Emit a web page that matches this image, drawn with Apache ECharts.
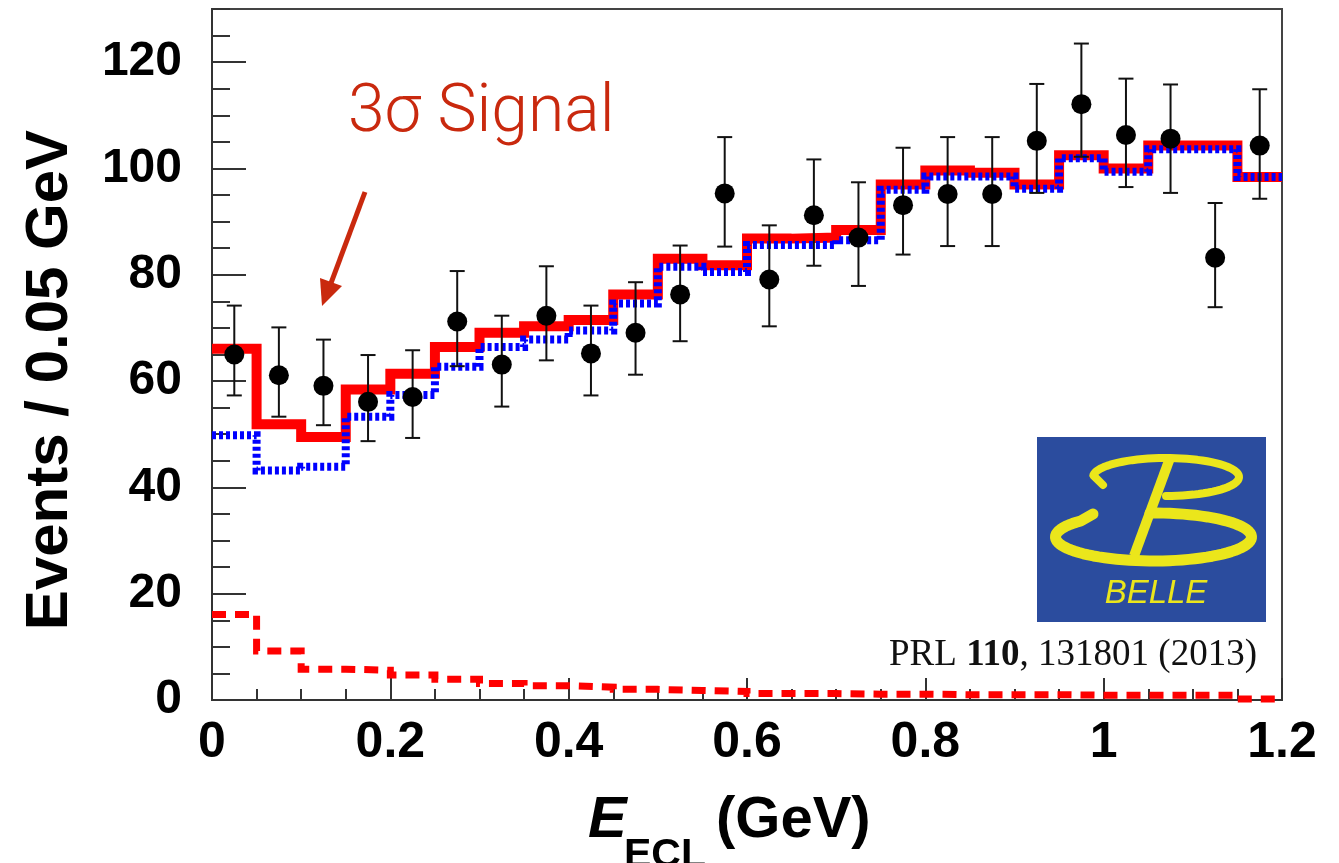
<!DOCTYPE html>
<html>
<head>
<meta charset="utf-8">
<script src="https://cdn.jsdelivr.net/npm/echarts@6/dist/echarts.min.js"></script>
<style>
html,body{margin:0;padding:0;background:#fff;}
#chart{width:1339px;height:863px;}
</style>
</head>
<body>
<div id="chart"></div>
<script>
// ---- data ----
const binEdges = [0, 0.05, 0.1, 0.15, 0.2, 0.25, 0.3, 0.35, 0.4, 0.45, 0.5, 0.55, 0.6,
  0.65, 0.7, 0.75, 0.8, 0.85, 0.9, 0.95, 1.0, 1.05, 1.1, 1.15, 1.2];
const binCenters = [0.025, 0.075, 0.125, 0.175, 0.225, 0.275, 0.325, 0.375, 0.425, 0.475,
  0.525, 0.575, 0.625, 0.675, 0.725, 0.775, 0.825, 0.875, 0.925, 0.975, 1.025, 1.075, 1.125, 1.175];
const dataValues = [65.0, 61.1, 59.1, 56.1, 57.0, 71.2, 63.1, 72.3, 65.2, 69.1,
  76.3, 95.3, 79.1, 91.2, 87.0, 93.1, 95.2, 95.2, 105.2, 112.1, 106.3, 105.6, 83.2, 104.3];
const dataErrHigh = [74.2, 70.1, 67.8, 64.9, 65.8, 80.7, 72.3, 81.6, 74.2, 78.6,
  85.5, 105.9, 89.3, 101.7, 97.4, 103.9, 105.9, 105.9, 115.9, 123.5, 116.9, 115.8, 93.5, 114.9];
const dataErrLow = [57.3, 53.3, 51.7, 48.7, 49.3, 62.8, 55.2, 63.9, 57.3, 61.2,
  67.5, 85.3, 70.3, 81.7, 77.9, 83.8, 85.4, 85.4, 95.4, 102.2, 96.5, 95.4, 73.9, 94.3];
const totalFit = [66.1, 51.9, 49.5, 58.4, 61.4, 66.4, 69.1, 70.3, 71.5, 76.3,
  83.0, 81.8, 86.8, 87.0, 88.4, 97.0, 99.6, 99.2, 97.0, 102.5, 100.0, 104.3, 104.3, 98.4];
const backgroundFit = [49.8, 43.2, 43.9, 53.3, 57.4, 62.7, 66.4, 67.8, 69.5, 74.6,
  81.5, 80.5, 85.6, 85.6, 86.5, 96.0, 98.5, 98.5, 96.2, 101.9, 99.4, 103.6, 103.6, 98.4];
const signalFit = [16.1, 9.2, 5.8, 5.6, 4.7, 3.9, 3.1, 2.7, 2.4, 2.0,
  1.8, 1.6, 1.2, 1.2, 1.1, 1.1, 1.0, 1.0, 1.0, 0.9, 0.9, 0.9, 0.9, 0.2];
const xTicks = {min: 0, max: 1.2, interval: 0.2, minorInterval: 0.05};
const yTicks = {min: 0, max: 130, interval: 20, minorInterval: 5};

// ---- helpers ----
function stepData(vals) {
  const d = vals.map((v, i) => [binEdges[i], v]);
  d.push([binEdges[vals.length], vals[vals.length - 1]]);
  return d;
}
const errData = binCenters.map((x, i) => [x, dataErrLow[i], dataErrHigh[i]]);
const pointData = binCenters.map((x, i) => [x, dataValues[i]]);

// logo outline helper (decorative drawing, pixels)
function ellipseArc(cx, cy, rx, ry, a0, a1, n) {
  const pts = [];
  for (let k = 0; k <= n; k++) {
    const t = (a0 + (a1 - a0) * k / n) * Math.PI / 180;
    pts.push([cx + rx * Math.cos(t), cy + ry * Math.sin(t)]);
  }
  return pts;
}
const upperBowl = [[1103, 485]].concat(ellipseArc(1166, 477, 73, 19, 185, 450, 60));
const lowerBowl = ellipseArc(1153.5, 537, 98, 24, 268, 582, 80).concat([[1093, 514]]);

const chart = echarts.init(document.getElementById('chart'), null, {renderer: 'canvas'});
const boldFont = '"Liberation Sans", Arial, Helvetica, sans-serif';
const annColor = '#c9290e';
const logoYellow = '#ebe61b';

const option = {
  animation: false,
  backgroundColor: '#fff',
  grid: {left: 212, right: 57, top: 9, bottom: 163, show: true, borderColor: '#444', borderWidth: 2, backgroundColor: 'transparent'},
  xAxis: [
    {
      type: 'value', min: xTicks.min, max: xTicks.max, interval: xTicks.interval, position: 'bottom',
      axisLine: {show: true, lineStyle: {color: '#333', width: 2}},
      axisTick: {show: true, inside: true, length: 22, lineStyle: {color: '#333', width: 2}},
      axisLabel: {show: true, margin: 18, color: '#000', fontSize: 50, fontWeight: 'bold', fontFamily: boldFont},
      splitLine: {show: false}
    },
    {
      type: 'value', min: xTicks.min, max: xTicks.max, interval: xTicks.minorInterval, position: 'bottom', offset: 0,
      axisLine: {show: false},
      axisTick: {show: true, inside: true, length: 11, lineStyle: {color: '#333', width: 2}},
      axisLabel: {show: false},
      splitLine: {show: false}
    }
  ],
  yAxis: [
    {
      type: 'value', min: yTicks.min, max: yTicks.max, interval: yTicks.interval, position: 'left',
      axisLine: {show: true, lineStyle: {color: '#333', width: 2}},
      axisTick: {show: true, inside: true, length: 34, lineStyle: {color: '#333', width: 2}},
      axisLabel: {show: true, margin: 30, color: '#000', fontSize: 48, fontWeight: 'bold', fontFamily: boldFont, showMaxLabel: false},
      splitLine: {show: false}
    },
    {
      type: 'value', min: yTicks.min, max: yTicks.max, interval: yTicks.minorInterval, position: 'left', offset: 0,
      axisLine: {show: false},
      axisTick: {show: true, inside: true, length: 18, lineStyle: {color: '#333', width: 2}},
      axisLabel: {show: false},
      splitLine: {show: false}
    }
  ],
  series: [
    {
      name: 'signal', type: 'line', step: 'end', xAxisIndex: 0, yAxisIndex: 0,
      data: stepData(signalFit), showSymbol: false, symbol: 'none', z: 2,
      lineStyle: {color: '#ff0000', width: 7, type: [14, 9], cap: 'butt', join: 'miter'}
    },
    {
      name: 'total', type: 'line', step: 'end', xAxisIndex: 0, yAxisIndex: 0,
      data: stepData(totalFit), showSymbol: false, symbol: 'none', z: 3,
      lineStyle: {color: '#ff0000', width: 10, type: 'solid', cap: 'butt', join: 'miter'}
    },
    {
      name: 'background', type: 'line', step: 'end', xAxisIndex: 0, yAxisIndex: 0,
      data: stepData(backgroundFit), showSymbol: false, symbol: 'none', z: 4,
      lineStyle: {color: '#0000ff', width: 8, type: [4, 3], cap: 'butt', join: 'miter'}
    },
    {
      name: 'errors', type: 'custom', xAxisIndex: 0, yAxisIndex: 0, z: 5,
      data: errData,
      renderItem: function (params, api) {
        const x = api.value(0);
        const p1 = api.coord([x, api.value(1)]);
        const p2 = api.coord([x, api.value(2)]);
        const hw = 7.5;
        const st = {stroke: '#111', lineWidth: 2};
        return {
          type: 'group',
          children: [
            {type: 'line', shape: {x1: p1[0], y1: p1[1], x2: p2[0], y2: p2[1]}, style: st},
            {type: 'line', shape: {x1: p1[0] - hw, y1: p1[1], x2: p1[0] + hw, y2: p1[1]}, style: st},
            {type: 'line', shape: {x1: p2[0] - hw, y1: p2[1], x2: p2[0] + hw, y2: p2[1]}, style: st}
          ]
        };
      }
    },
    {
      name: 'data', type: 'scatter', xAxisIndex: 0, yAxisIndex: 0, z: 6,
      data: pointData, symbol: 'circle', symbolSize: 20,
      itemStyle: {color: '#000', opacity: 1}
    }
  ],
  graphic: [
    // y axis title
    {type: 'text', x: 50, y: 380, rotation: Math.PI / 2, z: 10,
      style: {text: 'Events / 0.05 GeV', fontSize: 60, fontWeight: 'bold', fontFamily: boldFont, fill: '#000', align: 'center', verticalAlign: 'middle'}},
    // x axis title
    {type: 'text', x: 588, y: 821, z: 10,
      style: {text: 'E', fontSize: 58, fontWeight: 'bold', fontStyle: 'italic', fontFamily: boldFont, fill: '#000', align: 'left', verticalAlign: 'middle'}},
    {type: 'text', x: 624, y: 856, z: 10,
      style: {text: 'ECL', fontSize: 41, fontWeight: 'bold', fontFamily: boldFont, fill: '#000', align: 'left', verticalAlign: 'middle'}},
    {type: 'text', x: 716, y: 821, z: 10,
      style: {text: '(GeV)', fontSize: 58, fontWeight: 'bold', fontFamily: boldFont, fill: '#000', align: 'left', verticalAlign: 'middle'}},
    // annotation
    {type: 'text', x: 348, y: 114, z: 10,
      style: {text: '3σ Signal', fontSize: 66, fontWeight: 300, fontFamily: 'Roboto, "Open Sans", Lato, sans-serif', fill: annColor, align: 'left', verticalAlign: 'middle'}},
    {type: 'line', z: 10, shape: {x1: 365, y1: 192, x2: 331, y2: 283}, style: {stroke: annColor, lineWidth: 5}},
    {type: 'polygon', z: 10, shape: {points: [[322, 306], [342, 286], [320, 278]]}, style: {fill: annColor}},
    // PRL reference
    {type: 'text', x: 1257, y: 655, z: 10,
      style: {
        text: '{a|PRL }{b|110}{a|, 131801 (2013)}', align: 'right', verticalAlign: 'middle',
        rich: {
          a: {fontSize: 37, fontFamily: '"Liberation Serif", "Times New Roman", serif', fill: '#111'},
          b: {fontSize: 37, fontWeight: 'bold', fontFamily: '"Liberation Serif", "Times New Roman", serif', fill: '#111'}
        }
      }},
    // Belle logo
    {type: 'rect', z: 10, shape: {x: 1037, y: 437, width: 229, height: 185}, style: {fill: '#2b4c9e'}},
    {type: 'polyline', z: 11, shape: {points: upperBowl},
      style: {stroke: logoYellow, fill: null, lineWidth: 8, lineCap: 'round', lineJoin: 'round'}},
    {type: 'polyline', z: 11, shape: {points: lowerBowl},
      style: {stroke: logoYellow, fill: null, lineWidth: 11, lineCap: 'round', lineJoin: 'round'}},
    {type: 'line', z: 11, shape: {x1: 1170, y1: 458, x2: 1134, y2: 556}, style: {stroke: logoYellow, lineWidth: 10}},
    {type: 'text', x: 1156, y: 594, z: 11,
      style: {text: 'BELLE', fontSize: 33, fontStyle: 'italic', fontFamily: boldFont, fill: logoYellow, align: 'center', verticalAlign: 'middle'}}
  ]
};
chart.setOption(option);
</script>
</body>
</html>
